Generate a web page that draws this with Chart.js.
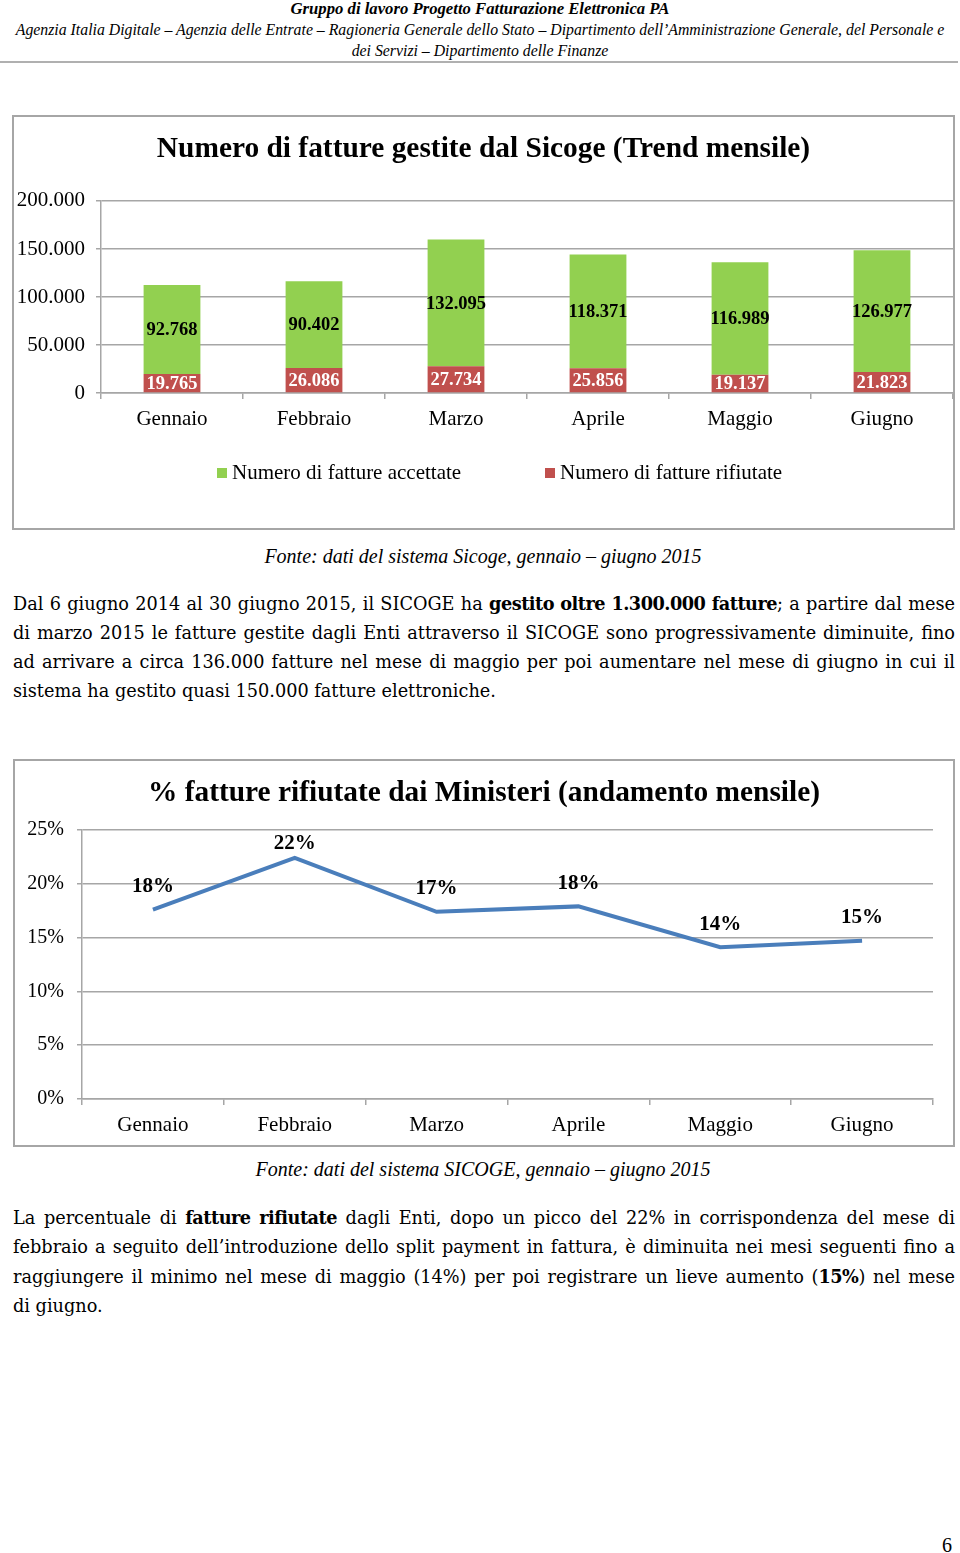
<!DOCTYPE html>
<html>
<head>
<meta charset="utf-8">
<script src="https://cdn.jsdelivr.net/npm/chart.js@4/dist/chart.umd.min.js"></script>
<style>
  body { margin: 0; background: #fff; font-family: "Liberation Serif", serif; color: #000; }
  #page { position: relative; width: 960px; height: 1553px; overflow: hidden; }
  .abs { position: absolute; }
  .head { left: 0; width: 960px; text-align: center; font-style: italic; font-size: 15.8px; line-height: 21px; white-space: nowrap; }
  .rule { left: 0; top: 61px; width: 958px; height: 2px; background: #b0b0b0; }
  .frame { border: 2px solid #a6a6a6; box-sizing: border-box; }
  .caption { left: 0; width: 966px; text-align: center; font-style: italic; font-size: 20px; line-height: 29px; }
  .para { left: 13px; width: 942px; font-family: "DejaVu Serif", serif; font-size: 17.7px; line-height: 29px; }
  .para div { text-align: justify; text-align-last: justify; }
  .para div.last { text-align: left; text-align-last: left; }
  .para b { letter-spacing: -0.5px; }
  .legend { top: 460px; font-size: 21px; line-height: 24px; white-space: nowrap; }
  .legend span.box { display: inline-block; width: 10px; height: 10px; margin-right: 5px; vertical-align: 1px; }
</style>
</head>
<body>
<div id="page">
  <div class="abs head" style="top:-2px;font-weight:bold;font-size:16.7px;">Gruppo di lavoro Progetto Fatturazione Elettronica PA</div>
  <div class="abs head" style="top:19px;">Agenzia Italia Digitale – Agenzia delle Entrate – Ragioneria Generale dello Stato – Dipartimento dell’Amministrazione Generale, del Personale e</div>
  <div class="abs head" style="top:40px;">dei Servizi – Dipartimento delle Finanze</div>
  <div class="abs rule"></div>

  <div class="abs frame" style="left:12px;top:115px;width:943px;height:415px;"></div>
  <canvas id="barChart" class="abs" width="939" height="411" style="left:14px;top:117px;"></canvas>
  <div class="abs legend" id="legend1" style="left:217px;"></div>
  <div class="abs legend" id="legend2" style="left:545px;"></div>

  <div class="abs caption" style="top:542px;">Fonte: dati del sistema Sicoge, gennaio – giugno 2015</div>

  <div class="abs para" style="top:589px;">
    <div>Dal 6 giugno 2014 al 30 giugno 2015, il SICOGE ha <b>gestito oltre 1.300.000 fatture</b>; a partire dal mese</div>
    <div>di marzo 2015 le fatture gestite dagli Enti attraverso il SICOGE sono progressivamente diminuite, fino</div>
    <div>ad arrivare a circa 136.000 fatture nel mese di maggio per poi aumentare nel mese di giugno in cui il</div>
    <div class="last">sistema ha gestito quasi 150.000 fatture elettroniche.</div>
  </div>

  <div class="abs frame" style="left:13px;top:759px;width:942px;height:388px;"></div>
  <canvas id="lineChart" class="abs" width="938" height="384" style="left:15px;top:761px;"></canvas>

  <div class="abs caption" style="top:1155px;">Fonte: dati del sistema SICOGE, gennaio – giugno 2015</div>

  <div class="abs para" style="top:1203px;">
    <div>La percentuale di <b>fatture rifiutate</b> dagli Enti, dopo un picco del 22% in corrispondenza del mese di</div>
    <div>febbraio a seguito dell’introduzione dello split payment in fattura, è diminuita nei mesi seguenti fino a</div>
    <div>raggiungere il minimo nel mese di maggio (14%) per poi registrare un lieve aumento (<b>15%</b>) nel mese</div>
    <div class="last">di giugno.</div>
  </div>

  <div class="abs" style="left:942px;top:1532px;font-size:20px;line-height:26px;">6</div>
</div>

<script>
// data
var months = ["Gennaio", "Febbraio", "Marzo", "Aprile", "Maggio", "Giugno"];
var accettate = [92768, 90402, 132095, 118371, 116989, 126977];
var rifiutate = [19765, 26086, 27734, 25856, 19137, 21823];
var pctRifiutate = [17.6, 22.4, 17.4, 17.9, 14.1, 14.7];
var seriesNames = ["Numero di fatture accettate", "Numero di fatture rifiutate"];
var seriesColors = ["#92D050", "#C0504D"];

var gridColor = "#a6a6a6";

Chart.defaults.font.family = "'Liberation Serif', serif";
Chart.defaults.color = "#000";

// italian thousands separator: 92768 -> 92.768
function fmt(n) {
  return String(n).replace(/\B(?=(\d{3})+(?!\d))/g, ".");
}

// legend as plain html
function fillLegend(id, i) {
  var el = document.getElementById(id);
  el.innerHTML = "<span class='box' style='background:" + seriesColors[i] + "'></span>" + seriesNames[i];
}
fillLegend("legend1", 0);
fillLegend("legend2", 1);

var barLabels = {
  id: "barLabels",
  afterDatasetsDraw: function (chart) {
    var ctx = chart.ctx;
    ctx.save();
    ctx.font = "bold 18.5px 'Liberation Serif'";
    ctx.textAlign = "center";
    ctx.textBaseline = "middle";
    chart.data.datasets.forEach(function (ds, i) {
      chart.getDatasetMeta(i).data.forEach(function (bar, j) {
        ctx.fillStyle = ds.labelColor;
        ctx.fillText(fmt(ds.data[j]), bar.x, (bar.y + bar.base) / 2 + 1);
      });
    });
    ctx.restore();
  }
};

var lineLabels = {
  id: "lineLabels",
  afterDatasetsDraw: function (chart) {
    var ctx = chart.ctx;
    ctx.save();
    ctx.font = "bold 21px 'Liberation Serif'";
    ctx.textAlign = "center";
    ctx.textBaseline = "middle";
    ctx.fillStyle = "#000";
    var ds = chart.data.datasets[0];
    chart.getDatasetMeta(0).data.forEach(function (pt, j) {
      var y = Math.max(pt.y - 23, chart.chartArea.top + 14);   // keep label inside the plot like excel does
      ctx.fillText(Math.round(ds.data[j]) + "%", pt.x, y);
    });
    ctx.restore();
  }
};

function xAxis() {
  return {
    offset: true,
    grid: { display: true, offset: true, drawOnChartArea: false, drawTicks: true, tickLength: 6, color: gridColor, lineWidth: 1.5 },
    border: { display: true, color: gridColor, width: 1.5 },
    ticks: { font: { size: 21 }, padding: 8, color: "#000" },
    afterFit: function (s) { s.height = 37; }
  };
}

new Chart(document.getElementById("barChart"), {
  type: "bar",
  data: {
    labels: months,
    datasets: [
      { label: seriesNames[1], data: rifiutate, backgroundColor: seriesColors[1], labelColor: "#fff", barPercentage: 0.5, categoryPercentage: 0.8 },
      { label: seriesNames[0], data: accettate, backgroundColor: seriesColors[0], labelColor: "#000", barPercentage: 0.5, categoryPercentage: 0.8 }
    ]
  },
  options: {
    responsive: false,
    animation: false,
    devicePixelRatio: 1,
    layout: { padding: { left: 0, right: 0, top: 0, bottom: 98 } },
    plugins: {
      legend: { display: false },
      tooltip: { enabled: false },
      title: {
        display: true,
        text: "Numero di fatture gestite dal Sicoge (Trend mensile)",
        font: { size: 29.4, weight: "bold" },
        color: "#000",
        padding: { top: 14.4, bottom: 34.3 }
      }
    },
    scales: {
      x: Object.assign(xAxis(), { stacked: true }),
      y: {
        stacked: true,
        min: 0,
        max: 200000,
        ticks: { stepSize: 50000, font: { size: 21 }, padding: 11, color: "#000", callback: function (v) { return fmt(v); } },
        grid: { color: gridColor, lineWidth: 1.5, tickLength: 5 },
        border: { display: true, color: gridColor, width: 1.5 },
        afterFit: function (s) { s.width = 87; }
      }
    }
  },
  plugins: [barLabels]
});

new Chart(document.getElementById("lineChart"), {
  type: "line",
  data: {
    labels: months,
    datasets: [
      { label: "% fatture rifiutate", data: pctRifiutate, borderColor: "#4A7EBB", borderWidth: 4, pointRadius: 0, tension: 0, fill: false }
    ]
  },
  options: {
    responsive: false,
    animation: false,
    devicePixelRatio: 1,
    layout: { padding: { left: 0, right: 0, top: 0, bottom: 9 } },
    plugins: {
      legend: { display: false },
      tooltip: { enabled: false },
      title: {
        display: true,
        text: "% fatture rifiutate dai Ministeri (andamento mensile)",
        font: { size: 29.4, weight: "bold" },
        color: "#000",
        padding: { top: 14.4, bottom: 19.3 }
      }
    },
    scales: {
      x: xAxis(),
      y: {
        min: 0,
        max: 25,
        ticks: { stepSize: 5, font: { size: 20 }, padding: 13, color: "#000", callback: function (v) { return v + "%"; } },
        grid: { color: gridColor, lineWidth: 1.5, tickLength: 5 },
        border: { display: true, color: gridColor, width: 1.5 },
        afterFit: function (s) { s.width = 67; }
      },
      // empty strip on the right so the plot stops short of the frame while the title stays centred
      yRight: {
        position: "right",
        display: true,
        grid: { display: false },
        border: { display: false },
        ticks: { display: false },
        afterFit: function (s) { s.width = 20; }
      }
    }
  },
  plugins: [lineLabels]
});
</script>
</body>
</html>
